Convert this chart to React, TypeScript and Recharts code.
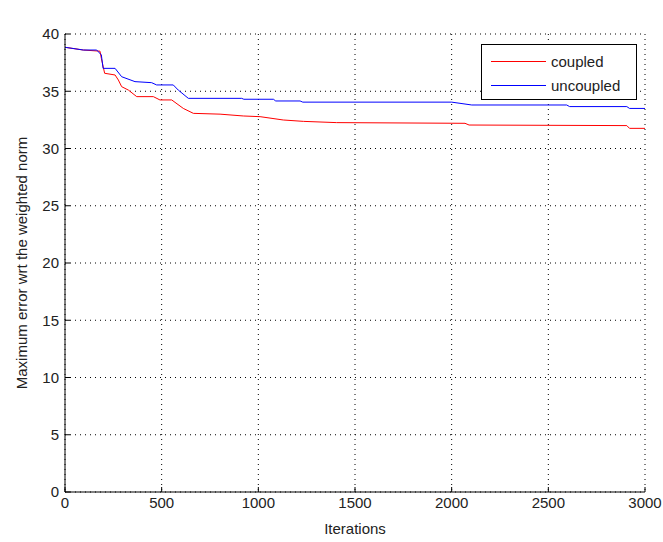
import { LineChart, Line, XAxis, YAxis, CartesianGrid, Label } from 'recharts';

const coupledIter = [0, 95, 181, 188, 205, 259, 276, 293, 328, 371, 457, 491, 552, 612, 664, 802, 922, 1009, 1129, 1233, 1405, 2069, 2090, 2906, 2920, 3000];
const coupledErr = [38.84, 38.6, 38.5, 37.87, 36.57, 36.42, 35.98, 35.4, 35.1, 34.53, 34.53, 34.24, 34.24, 33.5, 33.07, 33.0, 32.84, 32.78, 32.49, 32.37, 32.26, 32.2, 32.05, 32.0, 31.76, 31.76];

const uncoupledIter = [0, 95, 164, 188, 197, 259, 293, 362, 448, 474, 560, 586, 638, 914, 925, 1078, 1090, 1216, 1230, 2000, 2104, 2595, 2610, 2906, 2920, 3000];
const uncoupledErr = [38.84, 38.6, 38.6, 38.17, 37.0, 37.0, 36.27, 35.84, 35.75, 35.55, 35.55, 35.1, 34.38, 34.38, 34.3, 34.3, 34.15, 34.15, 34.05, 34.05, 33.8, 33.8, 33.66, 33.66, 33.5, 33.5];

const xTicks = [0, 500, 1000, 1500, 2000, 2500, 3000];
const yTicks = [0, 5, 10, 15, 20, 25, 30, 35, 40];

const FONT = '"Liberation Sans Narrow", "Liberation Sans", Arial, sans-serif';

const coupledData = coupledIter.map((x, i) => ({ iter: x, err: coupledErr[i] }));
const uncoupledData = uncoupledIter.map((x, i) => ({ iter: x, err: uncoupledErr[i] }));

const tickStyle = { fontSize: 15, fill: '#222', fontFamily: FONT };

function LegendBox() {
  const rows = [
    { name: 'coupled', color: '#ff0000' },
    { name: 'uncoupled', color: '#0000ff' },
  ];
  return (
    <div
      style={{
        position: 'absolute',
        left: 481,
        top: 44,
        border: '1px solid #000',
        background: '#fff',
        width: 156,
        height: 56,
        boxSizing: 'border-box',
        padding: '4px 0 0 9px',
        fontFamily: FONT,
        fontSize: 15,
        color: '#222',
      }}
    >
      {rows.map((r) => (
        <div key={r.name} style={{ display: 'flex', alignItems: 'center', height: 24 }}>
          <div style={{ width: 55, height: 0, borderTop: `1px solid ${r.color}`, marginRight: 5 }} />
          <span>{r.name}</span>
        </div>
      ))}
    </div>
  );
}

export default function App() {
  return (
    <div style={{ position: 'absolute', left: 0, top: 0, width: 663, height: 542, background: '#fff' }}>
      <LineChart width={663} height={542} margin={{ top: 34, right: 18, bottom: 0, left: 0 }}>
        <CartesianGrid stroke="#000" strokeDasharray="1 4" xAxisId="bottom" yAxisId="left" />
        <XAxis
          xAxisId="bottom"
          dataKey="iter"
          type="number"
          domain={[0, 3000]}
          ticks={xTicks}
          allowDataOverflow
          height={50}
          tickSize={-5}
          tickMargin={10}
          tick={tickStyle}
          stroke="#000"
        >
          <Label value="Iterations" position="center" dy={12} style={{ fontSize: 15, fill: '#222', fontFamily: FONT }} />
        </XAxis>
        <XAxis
          xAxisId="top"
          orientation="top"
          type="number"
          domain={[0, 3000]}
          ticks={xTicks}
          height={0}
          tickSize={-5}
          tick={() => <g />}
          stroke="#000"
        >
          <Label value="Maximum error" position="top" offset={10} style={{ fontSize: 15, fill: '#222', fontFamily: FONT }} />
        </XAxis>
        <YAxis
          yAxisId="left"
          type="number"
          domain={[0, 40]}
          ticks={yTicks}
          allowDataOverflow
          width={65}
          tickSize={-5}
          tickMargin={11}
          tick={tickStyle}
          stroke="#000"
        >
          <Label
            value="Maximum error wrt the weighted norm"
            position="center"
            angle={-90}
            dx={-11}
            style={{ fontSize: 15, fill: '#222', fontFamily: FONT, textAnchor: 'middle' }}
          />
        </YAxis>
        <YAxis
          yAxisId="right"
          orientation="right"
          type="number"
          domain={[0, 40]}
          ticks={yTicks}
          width={0}
          tickSize={-5}
          tick={() => <g />}
          stroke="#000"
        />
        <Line
          xAxisId="bottom"
          yAxisId="left"
          data={coupledData}
          dataKey="err"
          name="coupled"
          stroke="#ff0000"
          strokeWidth={1}
          dot={false}
          type="linear"
          isAnimationActive={false}
        />
        <Line
          xAxisId="bottom"
          yAxisId="left"
          data={uncoupledData}
          dataKey="err"
          name="uncoupled"
          stroke="#0000ff"
          strokeWidth={1}
          dot={false}
          type="linear"
          isAnimationActive={false}
        />
      </LineChart>
      <LegendBox />
    </div>
  );
}
